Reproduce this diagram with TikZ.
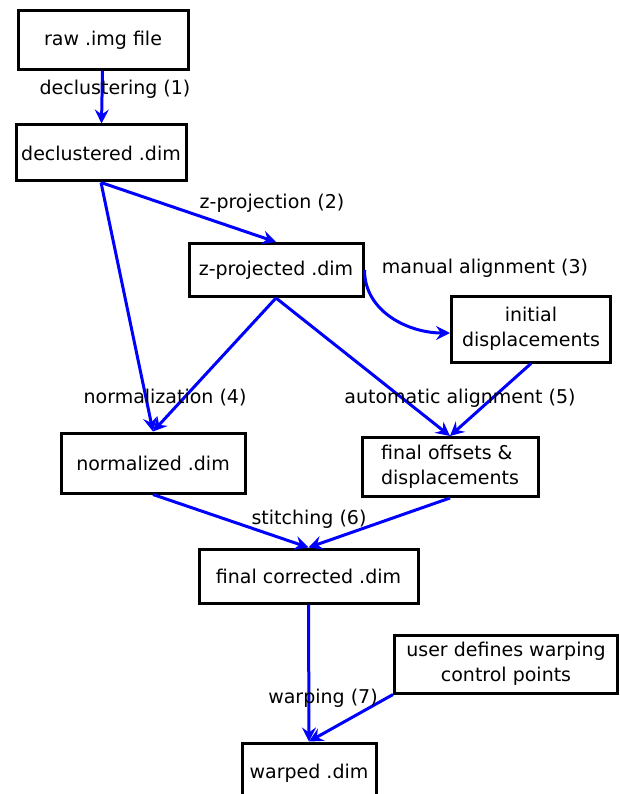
\documentclass[tikz,border=0pt]{standalone}
\usepackage{fontspec}
\setmainfont{DejaVu Sans}
\usetikzlibrary{arrows.meta}
\begin{document}
\begin{tikzpicture}[%
	x=1pt, y=-1pt,
	every node/.style = {font=\fontsize{19}{25}\selectfont, align=center, inner sep=0pt},
	box/.style 2 args = {draw, line width=3pt, minimum width=#1, minimum height=#2},
	flow/.style = {draw=blue, line width=3pt, -{Stealth[length=14pt,width=14pt,inset=5pt]}}
	]
  \useasboundingbox (0,0) rectangle (619,794);
  \node [box={170}{59}] (raw) at (103,40) {raw .img file};
  \node [box={170}{56}] (decl) at (101,153) {declustered .dim};
  \node [box={174}{53}] (zproj) at (276,270) {z-projected .dim};
  \node [box={159}{66}] (init) at (531,329) {initial\\displacements};
  \node [box={184}{60}] (norm) at (153,463) {normalized .dim};
  \node [box={176}{59}, align=left] (offs) at (450,467) {final offsets \&\\displacements};
  \node [box={219}{54}] (corr) at (308.5,576) {final corrected .dim};
  \node [box={223}{58}] (user) at (506,664) {user defines warping\\control points};
  \node [box={134}{60}] (warp) at (309,773) {warped .dim};

  \draw [flow] (raw) -- (decl);
  \draw [flow] (decl.south) -- (zproj.north);
  \draw [flow] (decl.south) -- (norm.north);
  \draw [flow] (zproj.south) -- (norm.north);
  \draw [flow] (zproj.south) -- (offs.north);
  \draw [flow] (init.south) -- (offs.north);
  \draw [flow] (zproj.east) to[out=-90,in=180] ([yshift=-4pt]init.west);
  \draw [flow] (norm.south) -- (corr.north);
  \draw [flow] (offs.south) -- (corr.north);
  \draw [flow] (corr.south) -- (warp.north);
  \draw [flow] (user.south west) -- (warp.north);

  \node (l1) at (115,89) {declustering (1)};
  \node (l2) at (272,203) {z-projection (2)};
  \node (l3) at (485,268) {manual alignment (3)};
  \node (l4) at (165,398) {normalization (4)};
  \node (l5) at (460,398) {automatic alignment (5)};
  \node (l6) at (309,519) {stitching (6)};
  \node (l7) at (323,698) {warping (7)};
\end{tikzpicture}
\end{document}
